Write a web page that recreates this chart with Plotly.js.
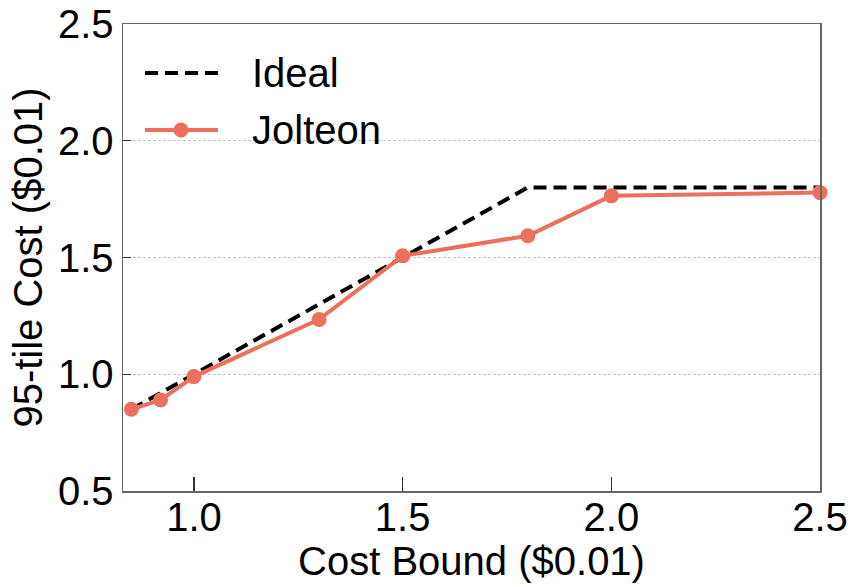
<!DOCTYPE html>
<html>
<head>
<meta charset="utf-8">
<script src="https://cdn.plot.ly/plotly-3.0.1.min.js"></script>
<style>html,body{margin:0;padding:0;background:#fff;}#chart{width:856px;height:587px;}</style>
</head>
<body>
<div id="chart"></div>
<script>
var idealX = [0.85, 1.8, 2.5];
var idealY = [0.85, 1.8, 1.8];
var jolteonX = [0.85, 0.92, 1.0, 1.3, 1.5, 1.8, 2.0, 2.5];
var jolteonY = [0.85, 0.89, 0.99, 1.235, 1.507, 1.593, 1.764, 1.778];
var xTicks = [1.0, 1.5, 2.0, 2.5];
var yTicks = [0.5, 1.0, 1.5, 2.0, 2.5];
var seriesNames = ['Ideal', 'Jolteon'];

var font = 'Liberation Sans, Arial, sans-serif';
var fs = 40;
var red = '#ED6F5E';
var traces = [
  {x: idealX, y: idealY, mode: 'lines', name: seriesNames[0], showlegend: false,
   line: {color: '#000000', width: 4, dash: '13px,7px'}},
  {x: jolteonX, y: jolteonY, mode: 'lines+markers', name: seriesNames[1], showlegend: false,
   line: {color: red, width: 4},
   marker: {color: red, size: 15}, cliponaxis: false}
];
// manual legend (paper coords of plot area)
var L = {x0: 0.0316, x1: 0.1363, xm: 0.0832, xt: 0.1822, y1: 0.895, y2: 0.773};
var layout = {
  width: 856, height: 587,
  margin: {l: 123, r: 36, t: 24, b: 96},
  paper_bgcolor: '#fff', plot_bgcolor: '#fff',
  font: {family: font, size: fs, color: '#000'},
  showlegend: false,
  shapes: [
    {type: 'line', xref: 'paper', yref: 'paper', x0: L.x0, x1: L.x1, y0: L.y1, y1: L.y1,
     line: {color: '#000', width: 4, dash: '13px,7px'}},
    {type: 'line', xref: 'paper', yref: 'paper', x0: L.x0, x1: L.x1, y0: L.y2, y1: L.y2,
     line: {color: red, width: 4}},
    {type: 'circle', xref: 'paper', yref: 'paper', xsizemode: 'pixel', ysizemode: 'pixel',
     xanchor: L.xm, yanchor: L.y2, x0: -7.5, x1: 7.5, y0: -7.5, y1: 7.5,
     fillcolor: red, line: {color: red, width: 0}}
  ],
  annotations: [
    {xref: 'paper', yref: 'paper', x: L.xt, y: L.y1, xanchor: 'left', yanchor: 'middle',
     text: seriesNames[0], showarrow: false, font: {family: font, size: fs, color: '#000'}},
    {xref: 'paper', yref: 'paper', x: L.xt, y: L.y2, xanchor: 'left', yanchor: 'middle',
     text: seriesNames[1], showarrow: false, font: {family: font, size: fs, color: '#000'}}
  ],
  xaxis: {range: [0.83, 2.5], tickvals: xTicks, ticktext: xTicks.map(function(v){return v.toFixed(1);}),
          ticks: 'inside', ticklen: 14, tickwidth: 1.2, tickcolor: '#333',
          ticklabelstandoff: -10,
          showline: true, linecolor: '#666', linewidth: 1.5, mirror: true,
          showgrid: false, zeroline: false,
          tickfont: {family: font, size: fs, color: '#000'},
          title: {text: 'Cost Bound ($0.01)', font: {family: font, size: fs, color: '#000'}, standoff: 0}},
  yaxis: {range: [0.5, 2.5], tickvals: yTicks, ticktext: yTicks.map(function(v){return v.toFixed(1);}),
          ticks: 'inside', ticklen: 8, tickwidth: 1.2, tickcolor: '#333',
          showline: true, linecolor: '#666', linewidth: 1.5, mirror: true,
          showgrid: true, gridcolor: '#c4c4c4', gridwidth: 1, griddash: '3px,2px',
          zeroline: false,
          tickfont: {family: font, size: fs, color: '#000'},
          title: {text: '95-tile Cost ($0.01)', font: {family: font, size: fs, color: '#000'}, standoff: 3}}
};
Plotly.newPlot('chart', traces, layout, {displayModeBar: false, staticPlot: true});
</script>
</body>
</html>
